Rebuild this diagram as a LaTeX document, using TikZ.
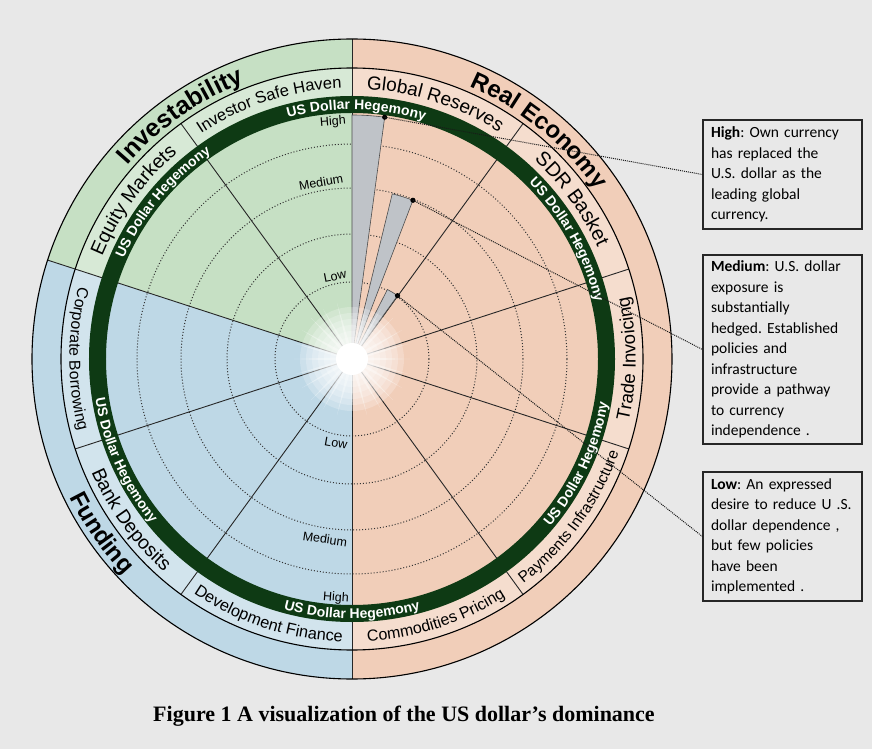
\documentclass[tikz,border=0pt]{standalone}
\usepackage{fontspec}
\setmainfont{Liberation Sans}
\newfontfamily\boxfont{Carlito}
\newfontfamily\capfont{Liberation Serif}
\usetikzlibrary{decorations.text}
\definecolor{bgc}{HTML}{E8E8E8}
\definecolor{greenc}{HTML}{C6E0C4}
\definecolor{peachc}{HTML}{F1CEB9}
\definecolor{bluec}{HTML}{BED8E6}
\definecolor{bandc}{HTML}{0E3A14}
\definecolor{barc}{HTML}{BFC3C8}
% #1 compass centre, #2 mid radius, #3 font size, #4 1=clockwise (top) / -1=counter-clockwise (bottom), #5 format, #6 colour, #7 text
\newcommand\ringtext[7]{%
  \pgfmathsetmacro\myrb{#2-#4*0.36*#3}%
  \pgfmathsetmacro\mysa{90-#1+#4*40}%
  \pgfmathsetmacro\myea{90-#1-#4*40}%
  \path[decorate,decoration={text along path,text align=center,text color=#6,
     text={|#5\fontsize{#3}{#3}\selectfont|#7}}]
     (\mysa:\myrb pt) arc[start angle=\mysa,end angle=\myea,radius=\myrb pt];%
}
\begin{document}
\begin{tikzpicture}[x=1pt,y=1pt,
  rad/.style={line width=0.9pt, black!85},
  ringline/.style={line width=1.1pt, black},
  dotcirc/.style={dotted, line width=1pt, black!80},
  leader/.style={densely dotted, line width=1pt, black!90},
  infobox/.style={draw=black!85, line width=1.2pt, text width=143pt, inner xsep=8pt,
     inner ysep=4pt, minimum width=159pt, align=left,
     font=\boxfont\fontsize{15.5}{20.5}\selectfont\frenchspacing},
  lvl/.style={font=\fontsize{12.5}{14}\selectfont, inner sep=0pt},
  barshape/.style={fill=barc, draw=black!70, line width=0.6pt}]

\useasboundingbox (-352,-390) rectangle (520,359);
\fill[bgc] (-352,-390) rectangle (520,359);

% category wedges
\fill[peachc] (0,0) -- (90:320pt) arc[start angle=90,end angle=-90,radius=320pt] -- cycle;
\fill[bluec] (0,0) -- (-90:320pt) arc[start angle=-90,end angle=-198,radius=320pt] -- cycle;
\fill[greenc] (0,0) -- (162:320pt) arc[start angle=162,end angle=90,radius=320pt] -- cycle;

% sub-category ring tints
\fill[peachc!70!white] (90:291pt) arc[start angle=90,end angle=-90,radius=291pt]
   -- (-90:263pt) arc[start angle=-90,end angle=90,radius=263pt] -- cycle;
\fill[bluec!70!white] (-90:291pt) arc[start angle=-90,end angle=-198,radius=291pt]
   -- (-198:263pt) arc[start angle=-198,end angle=-90,radius=263pt] -- cycle;
\fill[greenc!70!white] (162:291pt) arc[start angle=162,end angle=90,radius=291pt]
   -- (90:263pt) arc[start angle=90,end angle=162,radius=263pt] -- cycle;

% dotted level circles
\foreach \r in {77,125,171,215} \draw[dotcirc] (0,0) circle[radius=\r pt];

% radial lines
\foreach \a in {36,72,108,144,216,252,324} \draw[rad] (0,0) -- ({90-\a}:291pt);
\foreach \a in {0,180,288} \draw[rad] (0,0) -- ({90-\a}:320pt);

% rings
\draw[ringline] (0,0) circle[radius=320pt];
\draw[ringline] (0,0) circle[radius=291pt];
\fill[bandc, even odd rule] (0,0) circle[radius=263pt] (0,0) circle[radius=246pt];

% bars
\filldraw[barshape] (0,0) -- (90:244pt) arc[start angle=90,end angle=82.3,radius=244pt] -- cycle;
\filldraw[barshape] (0,0) -- (76.3:170pt) arc[start angle=76.3,end angle=69,radius=170pt] -- cycle;
\filldraw[barshape] (0,0) -- (63:78pt) arc[start angle=63,end angle=54.3,radius=78pt] -- cycle;
\coordinate (dh) at (82.3:244pt);
\coordinate (dm) at (69:170pt);
\coordinate (dl) at (54.3:78pt);
\foreach \c in {dh,dm,dl} \fill (\c) circle[radius=2.6pt];

% glow
\foreach \a in {0,15,...,345}
  \fill[white, opacity=0.35] (0,0) -- (\a+5:16pt) -- (\a:58pt) -- (\a-5:16pt) -- cycle;
\foreach \r in {52,46,...,16} \fill[white, opacity=0.22] (0,0) circle[radius=\r pt];
\fill[white] (0,0) circle[radius=16pt];

% level labels
\node[lvl, rotate=4.6] (lh1) at (-19,237) {High};
\node[lvl, rotate=9.9] (lm1) at (-31,177) {Medium};
\node[lvl, rotate=11] (ll1) at (-17,83) {Low};
\node[lvl, rotate=-10] (ll2) at (-16,-84) {Low};
\node[lvl, rotate=-8.3] (lm2) at (-27,-180) {Medium};
\node[lvl, rotate=-4] (lh2) at (-16,-239) {High};

% category labels
\ringtext{324.8}{305.5}{25}{1}{\bfseries}{black}{Investability}
\ringtext{39.3}{305.5}{24}{1}{\bfseries}{black}{Real Economy}
\ringtext{235.2}{305.5}{24}{-1}{\bfseries}{black}{Funding}

% sub-category labels
\ringtext{342}{277}{16.5}{1}{}{black}{Investor Safe Haven}
\ringtext{18}{277}{19}{1}{}{black}{Global Reserves}
\ringtext{54}{277}{20}{1}{}{black}{SDR Basket}
\ringtext{306}{277}{19.5}{1}{}{black}{Equity Markets}
\ringtext{90}{277}{18.5}{-1}{}{black}{Trade Invoicing}
\ringtext{126}{277}{15.5}{-1}{}{black}{Payments Infrastructure}
\ringtext{162}{277}{16}{-1}{}{black}{Commodities Pricing}
\ringtext{198}{277}{16.3}{-1}{}{black}{Development Finance}
\ringtext{234}{277}{19.3}{-1}{}{black}{Bank Deposits}
\ringtext{270}{277}{15.8}{-1}{}{black}{Corporate Borrowing}

% band labels
\ringtext{1}{254.5}{14}{1}{\bfseries}{white}{US Dollar Hegemony}
\ringtext{309.7}{254.5}{14}{1}{\bfseries}{white}{US Dollar Hegemony}
\ringtext{61}{254.5}{14}{1}{\bfseries}{white}{US Dollar Hegemony}
\ringtext{115}{254.5}{14}{-1}{\bfseries}{white}{US Dollar Hegemony}
\ringtext{180}{254.5}{14}{-1}{\bfseries}{white}{US Dollar Hegemony}
\ringtext{246}{254.5}{14}{-1}{\bfseries}{white}{US Dollar Hegemony}

% explanation boxes
\node[infobox, minimum height=109pt] (bh) at (430.5,184.5)
  {\textbf{High}: Own currency\\has replaced the\\U.S. dollar as the\\leading global\\currency.};
\node[infobox, minimum height=189pt] (bm) at (430.5,9.5)
  {\textbf{Medium}: U.S. dollar\\exposure is\\substantially\\hedged. Established\\policies and\\infrastructure\\provide a pathway\\to currency\\independence .};
\node[infobox, minimum height=129pt] (bl) at (430.5,-177.5)
  {\textbf{Low}: An expressed\\desire to reduce U .S.\\dollar dependence ,\\but few policies\\have been\\implemented .};

\draw[leader] (dh) -- (bh.west);
\draw[leader] (dm) -- (bm.west);
\draw[leader] (dl) -- (bl.west);

% caption
\node[anchor=base, inner sep=0pt, font=\capfont\bfseries\fontsize{22}{26}\selectfont] (cap) at (52,-362)
  {Figure 1 A visualization of the US dollar’s dominance};
\end{tikzpicture}
\end{document}
